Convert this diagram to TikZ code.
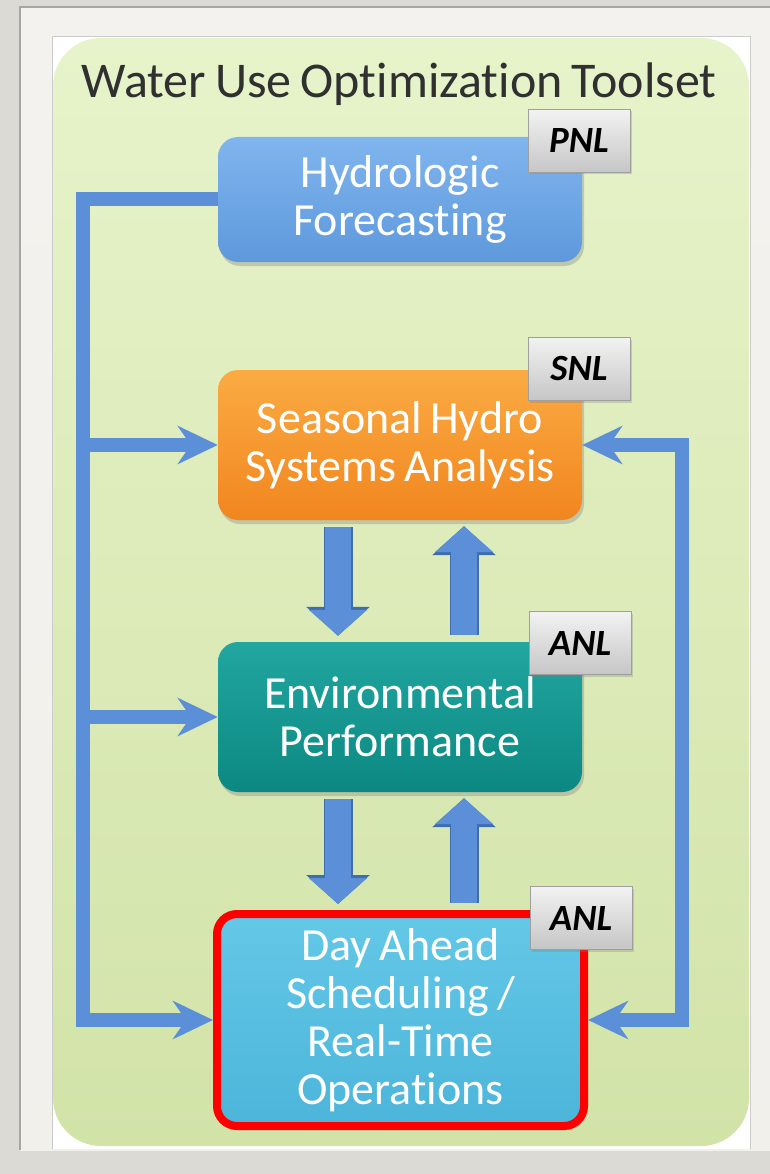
\documentclass[tikz,border=0pt]{standalone}
\usepackage{fontspec}
\setmainfont{Carlito}[Ligatures=NoCommon, WordSpace=0.8]
\usetikzlibrary{arrows.meta,shadows}

\definecolor{bgcol}{HTML}{DCDAD4}
\definecolor{framecol}{HTML}{F3F2EE}
\definecolor{panelhi}{HTML}{E7F3CA}
\definecolor{panello}{HTML}{D2E3A8}
\definecolor{titlegray}{HTML}{303030}
\definecolor{hydrohi}{HTML}{80B5EE}
\definecolor{hydrolo}{HTML}{5E99DC}
\definecolor{seashi}{HTML}{FBAB44}
\definecolor{seaslo}{HTML}{F1861E}
\definecolor{envhi}{HTML}{22A6A0}
\definecolor{envlo}{HTML}{0C8882}
\definecolor{dayhi}{HTML}{64C8E7}
\definecolor{daylo}{HTML}{4CB5DA}
\definecolor{arrowblue}{HTML}{5B8FD8}
\definecolor{arrowedge}{HTML}{3F6DB0}

\tikzset{
  procbox/.style={rectangle, rounded corners=20pt, minimum width=364pt,
    align=center, text=white, font=\fontsize{46}{48}\selectfont,
    drop shadow={shadow xshift=2pt, shadow yshift=-4pt, opacity=.35}},
  labtag/.style={rectangle, minimum width=102pt, minimum height=63pt, draw=gray!75, line width=1pt,
    top color=gray!10, bottom color=gray!45, font=\fontsize{37}{40}\bfseries\itshape\selectfont,
    drop shadow={shadow xshift=2pt, shadow yshift=-2pt, opacity=.3}},
  busline/.style={draw=arrowblue, line width=14pt, line join=miter},
  bustip/.tip={Stealth[length=40pt, width=38pt, inset=13pt]},
  blockarrow/.style={draw=arrowblue, line width=26pt, -{Triangle[length=26pt, width=57pt]},
    preaction={draw=arrowedge, line width=29pt, -{Triangle[length=29pt, width=62pt]}}}
}

\begin{document}
\begin{tikzpicture}[x=1pt, y=-1pt]
  \useasboundingbox (0,0) rectangle (770,1174);
  % frame and panel
  \fill[bgcol] (0,0) rectangle (770,1174);
  \shade[top color=framecol, bottom color=framecol!90!bgcol] (20,7) rectangle (770,1150);
  \draw[gray!70, line width=1.5pt] (20,1150) -- (20,7) -- (770,7);
  \fill[white] (52,37) rectangle (750,1149);
  \draw[gray!40, line width=1pt] (52,1149) -- (52,37) -- (750,37) -- (750,1149);
  \shade[top color=panelhi, bottom color=panello, rounded corners=48pt] (53,38) rectangle (749,1146);

  \node[anchor=base, font=\fontsize{50}{56}\selectfont, text=titlegray] (title) at (399,98) {Water Use Optimization Toolset};

  % boxes
  \node[procbox, minimum height=125pt, top color=hydrohi, bottom color=hydrolo] (hydro) at (400,199.5) {Hydrologic\\Forecasting};
  \node[procbox, minimum height=150pt, top color=seashi, bottom color=seaslo] (seas) at (400,445) {Seasonal Hydro\\Systems Analysis};
  \node[procbox, minimum height=150pt, top color=envhi, bottom color=envlo] (env) at (400,717) {Environmental\\Performance};
  \node[procbox, minimum width=367pt, minimum height=212pt, top color=dayhi, bottom color=daylo,
        draw=red, line width=8pt] (day) at (400.5,1020) {Day Ahead\\Scheduling /\\Real-Time\\Operations};

  % buses
  \coordinate (lbus) at (83,0);
  \coordinate (rbus) at (682,0);
  \draw[busline, -{bustip}] (hydro.west) -- (hydro.west -| lbus) -- (day.west -| lbus) -- (day.west);
  \foreach \dest in {seas, env}
    \draw[busline, -{bustip}] (\dest.west -| lbus) -- (\dest.west);
  \draw[busline, {bustip}-{bustip}] (seas.east) -- (seas.east -| rbus) -- (day.east -| rbus) -- (day.east);

  % block arrows
  \foreach \source/\sa/\dest/\da/\xpos in {seas/south/env/north/338, env/north/seas/south/464, env/south/day/north/338, day/north/env/south/464}
    \draw[blockarrow, shorten <=7pt, shorten >=6pt] (\source.\sa -| \xpos,0) -- (\dest.\da -| \xpos,0);

  % lab tags
  \node[labtag] (pnl) at (579,141) {PNL};
  \node[labtag] (snl) at (579,369) {SNL};
  \node[labtag] (anlenv) at (580,643) {ANL};
  \node[labtag] (anlday) at (581,918) {ANL};
\end{tikzpicture}
\end{document}
